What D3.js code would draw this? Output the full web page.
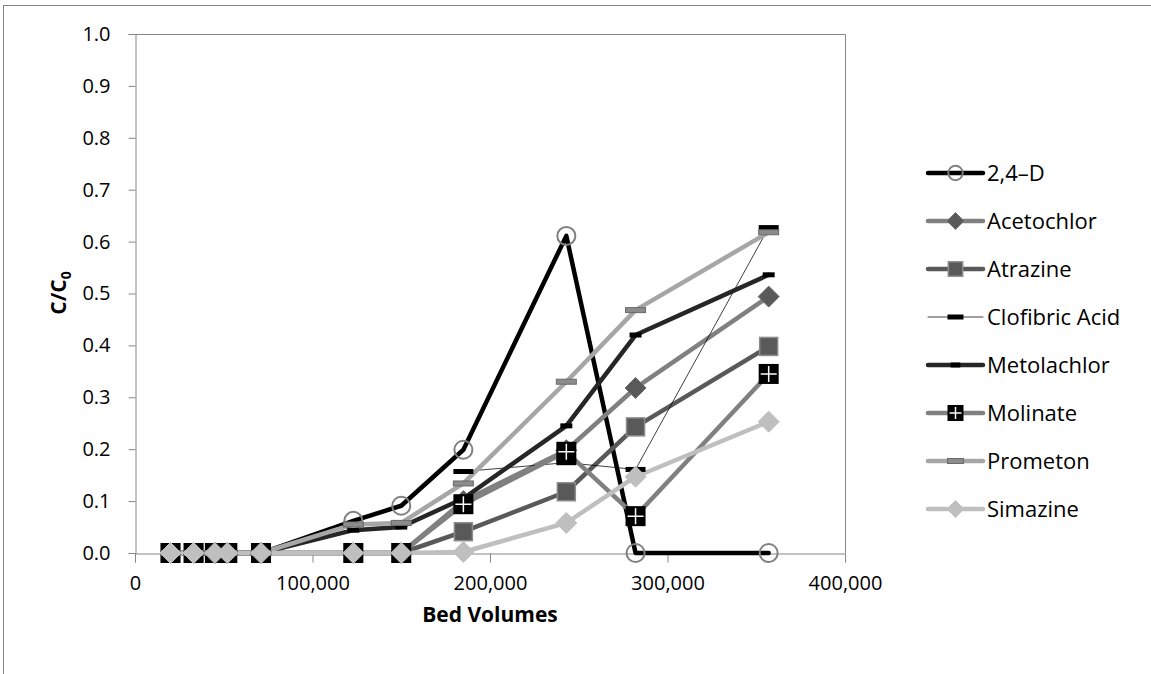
<!DOCTYPE html>
<html>
<head>
<meta charset="utf-8">
<script src="https://cdn.jsdelivr.net/npm/d3@7"></script>
<style>
  html, body { margin: 0; padding: 0; background: #fff; }
  svg { display: block; font-family: "Open Sans", "Noto Sans", sans-serif; }
</style>
</head>
<body>
<svg id="chart" width="1151" height="674"></svg>
<script>
// Breakthrough data: bed volumes treated vs. normalized effluent concentration
const bedVolumes = [20000, 33000, 45000, 52000, 71000, 123000, 150000, 185000, 243000, 282000, 357000];

const d24D        = [0, 0, 0, 0, 0, 0.062, 0.091, 0.199, 0.611, 0, 0];
const acetochlor  = [0, 0, 0, 0, 0, 0, 0, 0.100, 0.198, 0.318, 0.494];
const atrazine    = [0, 0, 0, 0, 0, 0, 0, 0.041, 0.118, 0.243, 0.398];
const clofibric   = [null, null, null, null, null, null, null, 0.157, 0.174, 0.161, 0.627];
const metolachlor = [0, 0, 0, 0, 0, 0.044, 0.050, 0.105, 0.245, 0.420, 0.536];
const molinate    = [0, 0, 0, 0, 0, 0, 0, 0.094, 0.195, 0.071, 0.345];
const prometon    = [0, 0, 0, 0, 0, 0.055, 0.058, 0.134, 0.330, 0.468, 0.618];
const simazine    = [0, 0, 0, 0, 0, 0, 0, 0.002, 0.058, 0.147, 0.253];

const seriesNames = ["2,4\u2013D", "Acetochlor", "Atrazine", "Clofibric Acid", "Metolachlor", "Molinate", "Prometon", "Simazine"];
const seriesValues = [d24D, acetochlor, atrazine, clofibric, metolachlor, molinate, prometon, simazine];

const xTicks = [0, 100000, 200000, 300000, 400000];
const yTicks = [0, 0.1, 0.2, 0.3, 0.4, 0.5, 0.6, 0.7, 0.8, 0.9, 1.0];

// Visual style per series (line + marker)
const styles = [
  { line: "#000000", width: 4.5, marker: "circle" },
  { line: "#808080", width: 4.5, marker: "diamondDark" },
  { line: "#595959", width: 4.5, marker: "square" },
  { line: "#000000", width: 0.75, marker: "dashLong" },
  { line: "#262626", width: 4.5, marker: "dashShort" },
  { line: "#808080", width: 4.5, marker: "cross" },
  { line: "#a6a6a6", width: 4.5, marker: "dashGray" },
  { line: "#bfbfbf", width: 4.5, marker: "diamondLight" }
];

const svg = d3.select("#chart");
const axisColor = "#868686";
const labelFont = "'Open Sans', sans-serif";

// Outer chart frame
svg.append("rect")
  .attr("x", 3.5).attr("y", 5.5)
  .attr("width", 1160).attr("height", 700)
  .attr("fill", "none").attr("stroke", axisColor).attr("stroke-width", 1);

const plot = { left: 135, top: 34, right: 845, bottom: 553 };

const x = d3.scaleLinear().domain([0, 400000]).range([plot.left, plot.right]);
const y = d3.scaleLinear().domain([0, 1]).range([plot.bottom, plot.top]);

// Plot-area border (top and right)
svg.append("path")
  .attr("d", `M${plot.left},${plot.top + 0.5}H${plot.right + 0.5}V${plot.bottom}`)
  .attr("fill", "none").attr("stroke", axisColor).attr("stroke-width", 1);

// Axes
const yAxis = svg.append("g")
  .attr("transform", `translate(${plot.left + 0.5},0)`)
  .call(d3.axisLeft(y).tickValues(yTicks).tickFormat(d3.format(".1f")).tickSize(7).tickPadding(18));
const xAxis = svg.append("g")
  .attr("transform", `translate(0,${plot.bottom + 0.5})`)
  .call(d3.axisBottom(x).tickValues(xTicks).tickFormat(d3.format(",")).tickSize(9).tickPadding(13));

[xAxis, yAxis].forEach(g => {
  g.select(".domain").attr("stroke", axisColor);
  g.selectAll(".tick line").attr("stroke", axisColor);
  g.selectAll(".tick text")
    .attr("fill", "#000")
    .style("font-size", "20px")
    .style("font-family", labelFont);
});

// Axis titles
svg.append("text")
  .attr("x", 490).attr("y", 622)
  .attr("text-anchor", "middle")
  .style("font-size", "21px").style("font-weight", "bold")
  .text("Bed Volumes");

const yTitle = svg.append("text")
  .attr("transform", "translate(66,293) rotate(-90)")
  .attr("text-anchor", "middle")
  .style("font-size", "21px").style("font-weight", "bold");
yTitle.append("tspan").text("C/C");
yTitle.append("tspan").attr("dy", 5).style("font-size", "14px").text("0");

// Marker drawing
function drawMarker(g, type, cx, cy, scale) {
  const s = scale || 1;
  switch (type) {
    case "circle":
      g.append("circle").attr("cx", cx).attr("cy", cy).attr("r", 9 * s)
        .attr("fill", "none").attr("stroke", "#808080").attr("stroke-width", 2);
      break;
    case "diamondDark":
    case "diamondLight": {
      const r = 10.5 * s;
      const col = type === "diamondDark" ? "#595959" : "#bfbfbf";
      g.append("path")
        .attr("d", `M${cx},${cy - r}L${cx + r},${cy}L${cx},${cy + r}L${cx - r},${cy}Z`)
        .attr("fill", col).attr("stroke", type === "diamondDark" ? "#6e6e6e" : "#bfbfbf").attr("stroke-width", 1);
      break;
    }
    case "square": {
      const h = 9 * s;
      g.append("rect").attr("x", cx - h).attr("y", cy - h).attr("width", 2 * h).attr("height", 2 * h)
        .attr("fill", "#595959").attr("stroke", "#8c8c8c").attr("stroke-width", 1.5);
      break;
    }
    case "cross": {
      const h = 10 * s;
      g.append("rect").attr("x", cx - h).attr("y", cy - h).attr("width", 2 * h).attr("height", 2 * h)
        .attr("fill", "#000");
      g.append("path")
        .attr("d", `M${cx - h + 2},${cy}H${cx + h - 2}M${cx},${cy - h + 2}V${cy + h - 2}`)
        .attr("stroke", "#fff").attr("stroke-width", 1.5);
      break;
    }
    case "dashLong":
      g.append("rect").attr("x", cx - 10 * s).attr("y", cy - 2.5).attr("width", 20 * s).attr("height", 5)
        .attr("fill", "#000");
      break;
    case "dashShort":
      g.append("rect").attr("x", cx - 6 * s).attr("y", cy - 2.5).attr("width", 12 * s).attr("height", 5)
        .attr("fill", "#000");
      break;
    case "dashGray":
      g.append("rect").attr("x", cx - 10 * s).attr("y", cy - 2.5).attr("width", 20 * s).attr("height", 5)
        .attr("fill", "#8c8c8c").attr("stroke", "#6a6a6a").attr("stroke-width", 1);
      break;
  }
}

const line = d3.line()
  .defined(d => d[1] !== null)
  .x(d => x(d[0]))
  .y(d => y(d[1]));

const series = seriesValues.map((vals, i) => ({
  name: seriesNames[i],
  style: styles[i],
  points: bedVolumes.map((bv, j) => [bv, vals[j]])
}));

// Lines
const linesG = svg.append("g");
series.forEach(s => {
  linesG.append("path")
    .datum(s.points)
    .attr("d", line)
    .attr("fill", "none")
    .attr("stroke", s.style.line)
    .attr("stroke-width", s.style.width)
    .attr("stroke-linejoin", "round")
    .attr("stroke-linecap", "round");
});

// Markers
const markersG = svg.append("g");
series.forEach(s => {
  const g = markersG.append("g");
  s.points.filter(p => p[1] !== null).forEach(p => drawMarker(g, s.style.marker, x(p[0]), y(p[1])));
});

// Legend
const legend = svg.append("g");
const legendY0 = 173, legendStep = 48.0;
series.forEach((s, i) => {
  const ly = legendY0 + i * legendStep;
  const g = legend.append("g");
  g.append("line")
    .attr("x1", 928).attr("x2", 983).attr("y1", ly).attr("y2", ly)
    .attr("stroke", s.style.line)
    .attr("stroke-width", s.style.width)
    .attr("stroke-linecap", "round");
  drawMarker(g, s.style.marker, 955.5, ly, 0.8);
  g.append("text")
    .attr("x", 987).attr("y", ly)
    .attr("dy", "0.35em")
    .style("font-size", "22px")
    .text(s.name);
});
</script>
</body>
</html>
